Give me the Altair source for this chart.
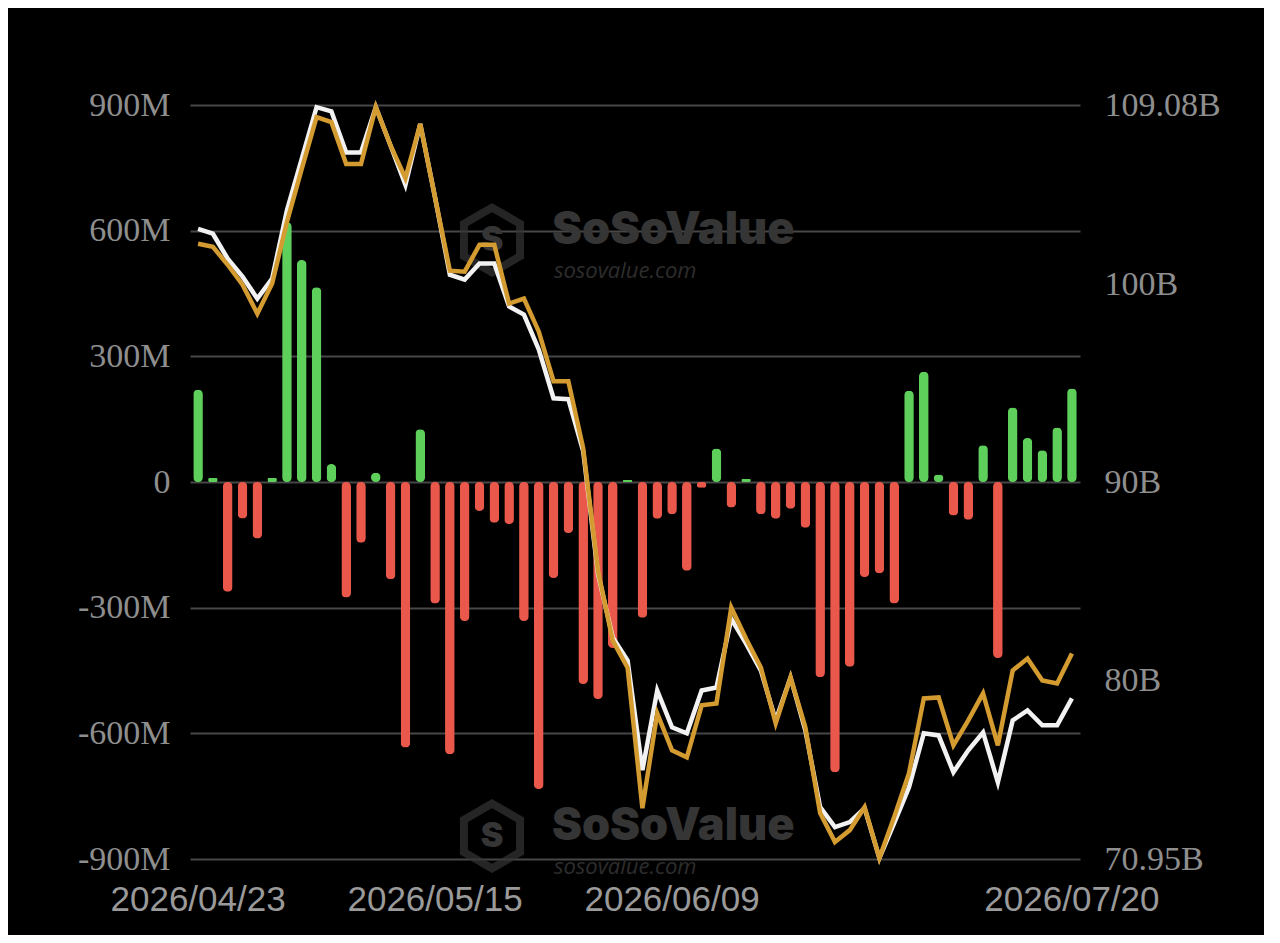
"""ETF daily net flow bars with two asset lines, dark SoSoValue-style chart."""
import pandas as pd
import altair as alt

DATES = [
    "2026/04/23", "2026/04/24", "2026/04/27", "2026/04/28", "2026/04/29", "2026/04/30",
    "2026/05/01", "2026/05/04", "2026/05/05", "2026/05/06", "2026/05/07", "2026/05/08",
    "2026/05/11", "2026/05/12", "2026/05/13", "2026/05/14", "2026/05/15", "2026/05/18",
    "2026/05/19", "2026/05/20", "2026/05/21", "2026/05/22", "2026/05/26", "2026/05/27",
    "2026/05/28", "2026/05/29", "2026/06/01", "2026/06/02", "2026/06/03", "2026/06/04",
    "2026/06/05", "2026/06/08", "2026/06/09", "2026/06/10", "2026/06/11", "2026/06/12",
    "2026/06/15", "2026/06/16", "2026/06/17", "2026/06/18", "2026/06/22", "2026/06/23",
    "2026/06/24", "2026/06/25", "2026/06/26", "2026/06/29", "2026/06/30", "2026/07/01",
    "2026/07/02", "2026/07/06", "2026/07/07", "2026/07/08", "2026/07/09", "2026/07/10",
    "2026/07/13", "2026/07/14", "2026/07/15", "2026/07/16", "2026/07/17", "2026/07/20",
]

# daily net flow, millions USD
NET_FLOW_M = [
    220, 10, -262, -87, -135, 10, 620, 530, 465, 43,
    -276, -145, 22, -232, -634, 126, -290, -650, -332, -69,
    -97, -100, -332, -733, -229, -122, -482, -518, -396, 5,
    -324, -88, -77, -212, -14, 80, -61, 8, -77, -88,
    -64, -109, -466, -693, -441, -227, -218, -290, 218, 263,
    18, -80, -90, 88, -420, 178, 105, 76, 130, 223,
]

# right axis series, billions USD
WHITE_LINE_B = [
    102.82, 102.57, 101.31, 100.40, 99.29, 100.30, 103.76, 106.35, 108.97, 108.76,
    106.68, 106.68, 108.97, 107.02, 105.04, 108.12, 104.40, 100.50, 100.25, 101.06,
    101.06, 98.89, 98.48, 96.72, 94.25, 94.20, 91.58, 85.37, 82.15, 80.99,
    75.44, 79.47, 77.61, 77.31, 79.47, 79.62, 83.10, 81.84, 80.48, 77.96,
    80.13, 77.46, 73.57, 72.56, 72.82, 73.52, 71.00, 72.77, 74.58, 77.31,
    77.20, 75.34, 76.45, 77.35, 74.83, 77.96, 78.46, 77.71, 77.71, 79.07,
]
GOLD_LINE_B = [
    102.06, 101.91, 101.00, 99.99, 98.53, 100.05, 103.17, 105.85, 108.47, 108.22,
    106.10, 106.10, 108.97, 107.02, 105.38, 108.12, 104.40, 100.70, 100.65, 102.01,
    102.01, 99.04, 99.29, 97.63, 95.11, 95.11, 91.73, 85.52, 81.99, 80.63,
    73.52, 78.31, 76.45, 76.09, 78.72, 78.82, 83.66, 82.09, 80.63, 77.81,
    80.13, 77.61, 73.27, 71.81, 72.41, 73.57, 71.00, 73.07, 75.29, 79.07,
    79.12, 76.70, 77.96, 79.32, 76.70, 80.48, 81.09, 79.98, 79.83, 81.34,
]

LEFT_TICKS = [-900, -600, -300, 0, 300, 600, 900]
RIGHT_TICKS = [70.95, 80, 90, 100, 109.08]
X_TICKS = ["2026/04/23", "2026/05/15", "2026/06/09", "2026/07/20"]

GREEN = "#5fcf5c"
RED = "#e9584a"
LABEL_GREY = "#8e8e8e"
WATERMARK = "#353535"

df = pd.DataFrame({
    "date": DATES,
    "flow": NET_FLOW_M,
    "white": WHITE_LINE_B,
    "gold": GOLD_LINE_B,
})
df["sign"] = ["in" if v >= 0 else "out" for v in df["flow"]]

x_scale = alt.Scale(type="band", paddingInner=0.35, paddingOuter=0.22)
x_axis = alt.Axis(values=X_TICKS, title=None, labelAngle=0, labelFont="Liberation Sans",
                  labelFontSize=35, labelColor="#9a9a9a", labelPadding=23,
                  ticks=False, domain=False, grid=False,
                  labelOverlap=False, labelBound=False, labelFlush=False)
x_enc = alt.X("date:O", sort=DATES, scale=x_scale, axis=x_axis)


def make_watermark(y_top):
    """SoSoValue watermark: hexagon logo, brand, site."""
    base = alt.Chart(pd.DataFrame({"brand": ["SoSoValue"], "site": ["sosovalue.com"]}))
    hexagon = "M0,-1L0.866,-0.5L0.866,0.5L0,1L-0.866,0.5L-0.866,-0.5Z"
    logo = base.mark_point(shape=hexagon, filled=False, size=4200, strokeWidth=8,
                           color=WATERMARK).encode(x=alt.value(302), y=alt.value(y_top + 7))
    logo_s = base.mark_text(text="S", font="Inter", fontSize=34, fontWeight=900,
                            color=WATERMARK).encode(x=alt.value(302), y=alt.value(y_top + 8))
    brand = base.mark_text(align="left", baseline="middle", font="Inter", fontSize=45,
                           fontWeight=900, color=WATERMARK).encode(
        x=alt.value(362), y=alt.value(y_top - 3), text="brand:N")
    site = base.mark_text(align="left", baseline="middle", font="Open Sans", fontSize=22,
                          fontStyle="italic", color="#2d2d2d").encode(
        x=alt.value(364), y=alt.value(y_top + 38), text="site:N")
    return logo + logo_s + brand + site


def make_flow_bars():
    return alt.Chart(df).mark_bar(cornerRadius=4.5).encode(
        x=x_enc,
        y=alt.Y("flow:Q", scale=alt.Scale(domain=[-900, 900], nice=False, zero=False),
                axis=alt.Axis(values=LEFT_TICKS,
                              labelExpr="datum.value == 0 ? '0' : datum.value + 'M'",
                              title=None, orient="left", labelFont="Liberation Serif",
                              labelFontSize=34, labelColor=LABEL_GREY, labelPadding=20,
                              ticks=False, domain=False, grid=True, gridColor="#474747",
                              gridWidth=2)),
        color=alt.Color("sign:N", scale=alt.Scale(domain=["in", "out"], range=[GREEN, RED]),
                        legend=None),
    )


def make_asset_lines():
    y_scale = alt.Scale(domain=[70.95, 109.08], nice=False, zero=False)
    right_axis = alt.Axis(values=RIGHT_TICKS, labelExpr="datum.value + 'B'", title=None,
                          orient="right", labelFont="Liberation Serif", labelFontSize=34,
                          labelColor=LABEL_GREY, labelPadding=24, ticks=False,
                          domain=False, grid=False)
    white = alt.Chart(df).mark_line(color="#f2f2f2", strokeWidth=4.5).encode(
        x=x_enc, y=alt.Y("white:Q", scale=y_scale, axis=right_axis))
    gold = alt.Chart(df).mark_line(color="#d49b30", strokeWidth=4.5).encode(
        x=x_enc, y=alt.Y("gold:Q", scale=y_scale, axis=right_axis))
    return alt.layer(white, gold)


chart = alt.layer(
    make_watermark(128),
    make_watermark(724),
    make_flow_bars(),
    make_asset_lines(),
).resolve_scale(y="independent").properties(
    width=890,
    height=754,
    padding={"left": 182, "top": 97, "right": 184, "bottom": 76},
    autosize=alt.AutoSizeParams(type="none"),
    background="#000000",
).configure_view(stroke=None)

chart.save("out.html", embed_options={"renderer": "svg", "actions": False})
